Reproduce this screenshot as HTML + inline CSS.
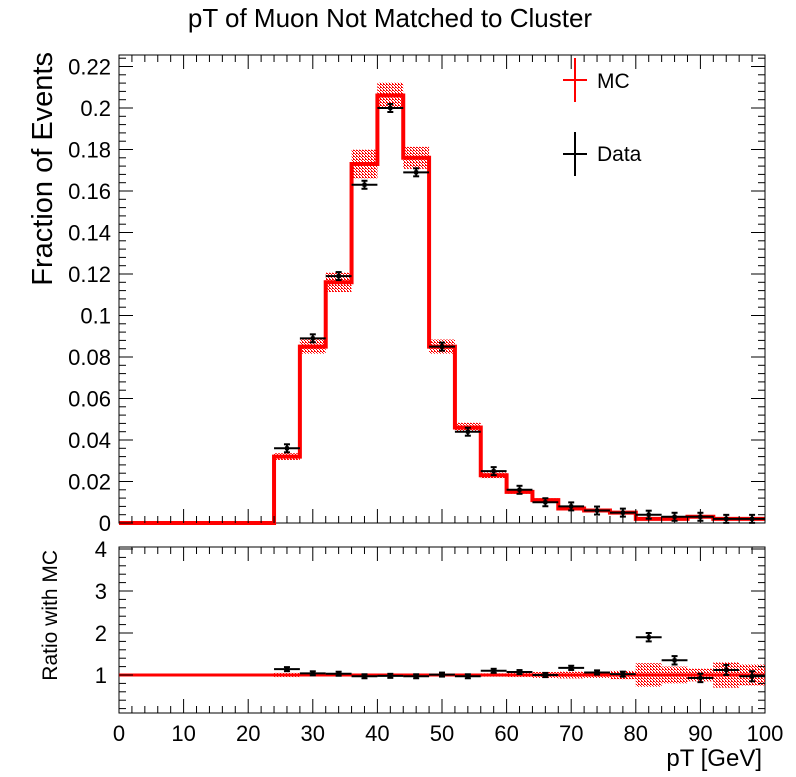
<!DOCTYPE html>
<html><head><meta charset="utf-8"><style>
body{margin:0;background:#fff;}
svg text{font-family:"Liberation Sans",sans-serif;}
</style></head><body>
<svg id="c" width="796" height="772" xmlns="http://www.w3.org/2000/svg">
<defs><pattern id="dots" width="3" height="3" patternUnits="userSpaceOnUse"><rect width="1" height="1" fill="#f00"/><rect x="1" y="1" width="1" height="1" fill="#f00"/><rect x="2" y="2" width="1" height="1" fill="#f00"/><rect x="2" y="0" width="1" height="1" fill="#f00"/></pattern></defs>
<text x="390" y="27" font-size="26" text-anchor="middle">pT of Muon Not Matched to Cluster</text>
<g id="main"></g><g id="ratio"></g>
</svg>
<script>
const binEdges=[0,4,8,12,16,20,24,28,32,36,40,44,48,52,56,60,64,68,72,76,80,84,88,92,96,100];
const mcValues=[0,0,0,0,0,0,0.032,0.085,0.116,0.173,0.206,0.176,0.085,0.046,0.023,0.015,0.011,0.007,0.006,0.005,0.002,0.002,0.003,0.002,0.002];
const mcRelErr=[0,0,0,0,0,0,0.05,0.04,0.04,0.04,0.03,0.03,0.04,0.05,0.06,0.06,0.08,0.08,0.09,0.1,0.15,0.12,0.12,0.16,0.15];
const ratioBandErr=[0,0,0,0,0,0,0.05,0.015,0.015,0.015,0.015,0.015,0.015,0.02,0.04,0.05,0.07,0.08,0.07,0.1,0.28,0.2,0.15,0.3,0.25];
const dataValues=[null,null,null,null,null,null,0.036,0.089,0.119,0.163,0.200,0.169,0.085,0.044,0.025,0.016,0.010,0.008,0.006,0.005,0.004,0.003,0.003,0.002,0.002];
const ratioValues=[null,null,null,null,null,null,1.14,1.04,1.03,0.97,0.98,0.97,1.01,0.97,1.10,1.07,1.00,1.17,1.06,1.02,1.9,1.35,0.93,1.12,0.97];
const ratioErr=[0,0,0,0,0,0,0.03,0.02,0.02,0.02,0.02,0.02,0.02,0.02,0.03,0.03,0.05,0.05,0.05,0.06,0.1,0.1,0.1,0.12,0.12];
const yTicks=[0,0.02,0.04,0.06,0.08,0.1,0.12,0.14,0.16,0.18,0.2,0.22];
const yTickLabels=["0","0.02","0.04","0.06","0.08","0.1","0.12","0.14","0.16","0.18","0.2","0.22"];
const rTicks=[1,2,3,4];
const xTicks=[0,10,20,30,40,50,60,70,80,90,100];
const NS='http://www.w3.org/2000/svg';
const L=119,R=765,T=55,B=523,RT=547,RB=713;
const xs=v=>L+(v/100)*(R-L);
const ys=v=>B-v*2075;
const yr=v=>675-(v-1)*42;
function el(p,tag,a,txt){const e=document.createElementNS(NS,tag);for(const k in a)e.setAttribute(k,a[k]);if(txt!=null)e.textContent=txt;p.appendChild(e);return e;}
const main=document.getElementById('main'),ratio=document.getElementById('ratio');
let f=el(main,'rect',{x:L,y:T,width:R-L,height:B-T,fill:'none',stroke:'#000','stroke-width':1});


let d='';
for(let i=0;i<mcValues.length;i++){
 const x0=xs(binEdges[i]),x1=xs(binEdges[i+1]),v=mcValues[i],e=v*mcRelErr[i];
 if(v>0){const b=el(main,'rect',{x:x0,y:ys(v+e),width:x1-x0,height:Math.max(ys(v-e)-ys(v+e),1),fill:'url(#dots)'});
 
 }
 d+=(i==0?'M':'L')+x0+','+ys(v)+'L'+x1+','+ys(v);
}
let mc=el(main,'path',{d:d,fill:'none',stroke:'#f00','stroke-width':4});


function point(p,xc,y,hw,eyTop,eyBot,name){
 const g=el(p,'g',{stroke:'#000','stroke-width':2});
 
 
 el(g,'line',{x1:xc-hw,x2:xc+hw,y1:y,y2:y});
 el(g,'line',{x1:xc,x2:xc,y1:eyTop,y2:eyBot});
 el(g,'line',{x1:xc-3,x2:xc+3,y1:eyTop,y2:eyTop});
 el(g,'line',{x1:xc-3,x2:xc+3,y1:eyBot,y2:eyBot});
 el(g,'rect',{x:xc-2,y:y-2,width:4,height:4,fill:'#000',stroke:'none'});
}
for(let i=0;i<dataValues.length;i++){
 const v=dataValues[i];if(v==null)continue;
 const xc=xs((binEdges[i]+binEdges[i+1])/2),hw=(xs(binEdges[i+1])-xs(binEdges[i]))/2;
 point(main,xc,ys(v),hw,ys(v)-4,ys(v)+4,'data-point');
}
yTicks.forEach((t,i)=>{const y=ys(t);
 el(main,'line',{x1:L,x2:L+14,y1:y,y2:y,stroke:'#000'});el(main,'line',{x1:R,x2:R-14,y1:y,y2:y,stroke:'#000'});
 const tl=el(main,'text',{x:L-8,y:y+8,'font-size':22,'text-anchor':'end'},yTickLabels[i]);
 
 
 for(let k=1;k<5;k++){const yy=ys(t+0.004*k);if(yy<T)break;el(main,'line',{x1:L,x2:L+7,y1:yy,y2:yy,stroke:'#000'});el(main,'line',{x1:R,x2:R-7,y1:yy,y2:yy,stroke:'#000'});}
});
for(let v=0;v<=100;v+=2){const x=xs(v),len=v%10==0?14:7;
 el(main,'line',{x1:x,x2:x,y1:B,y2:B-len,stroke:'#000'});el(main,'line',{x1:x,x2:x,y1:T,y2:T+len,stroke:'#000'});}
let yt=el(main,'text',{x:0,y:0,'font-size':29,'text-anchor':'end',transform:'translate(52,52) rotate(-90)'},'Fraction of Events');


let lg=el(main,'g',{});


el(lg,'line',{x1:563,x2:587,y1:80,y2:80,stroke:'#f00','stroke-width':2});
el(lg,'line',{x1:575,x2:575,y1:58,y2:102,stroke:'#f00','stroke-width':2});
el(lg,'text',{x:597,y:88,'font-size':21},'MC');
el(lg,'line',{x1:563,x2:587,y1:154,y2:154,stroke:'#000','stroke-width':2});
el(lg,'line',{x1:575,x2:575,y1:132,y2:176,stroke:'#000','stroke-width':2});
el(lg,'text',{x:597,y:161,'font-size':21},'Data');
let rf=el(ratio,'rect',{x:L,y:RT,width:R-L,height:RB-RT,fill:'none',stroke:'#000'});


for(let i=0;i<ratioBandErr.length;i++){if(!ratioBandErr[i])continue;const e=ratioBandErr[i];
 const b=el(ratio,'rect',{x:xs(binEdges[i]),y:yr(1+e),width:xs(binEdges[i+1])-xs(binEdges[i]),height:yr(1-e)-yr(1+e),fill:'url(#dots)'});
 
 }
let rl=el(ratio,'line',{x1:L,x2:R,y1:yr(1),y2:yr(1),stroke:'#f00','stroke-width':3});


for(let i=0;i<ratioValues.length;i++){const v=ratioValues[i];if(v==null)continue;
 const xc=xs((binEdges[i]+binEdges[i+1])/2),hw=(xs(binEdges[i+1])-xs(binEdges[i]))/2;
 const e=Math.max(ratioErr[i]*42,2);
 point(ratio,xc,yr(v),hw,yr(v)-e,yr(v)+e,'ratio-point');}
rTicks.forEach(t=>{const y=yr(t);el(ratio,'line',{x1:L,x2:L+14,y1:y,y2:y,stroke:'#000'});el(ratio,'line',{x1:R,x2:R-14,y1:y,y2:y,stroke:'#000'});
 const tl=el(ratio,'text',{x:L-12,y:y+8,'font-size':22,'text-anchor':'end'},String(t));
 
 
 for(let k=-4;k<5;k++){if(!k)continue;const yy=yr(t+0.2*k);if(yy>RT&&yy<RB&&(k<0?t==1:true)){el(ratio,'line',{x1:L,x2:L+7,y1:yy,y2:yy,stroke:'#000'});el(ratio,'line',{x1:R,x2:R-7,y1:yy,y2:yy,stroke:'#000'});}}
});
for(let v=0;v<=100;v+=2){const x=xs(v),len=v%10==0?14:7;
 el(ratio,'line',{x1:x,x2:x,y1:RB,y2:RB-len,stroke:'#000'});el(ratio,'line',{x1:x,x2:x,y1:RT,y2:RT+len,stroke:'#000'});}
xTicks.forEach(t=>{const tl=el(ratio,'text',{x:xs(t),y:741,'font-size':22,'text-anchor':'middle'},String(t));
 
 });
let rt=el(ratio,'text',{x:0,y:0,'font-size':21,'text-anchor':'end',transform:'translate(57,550) rotate(-90)'},'Ratio with MC');


let xt=el(ratio,'text',{x:762,y:766,'font-size':24,'text-anchor':'end'},'pT [GeV]');


</script>
</body></html>
